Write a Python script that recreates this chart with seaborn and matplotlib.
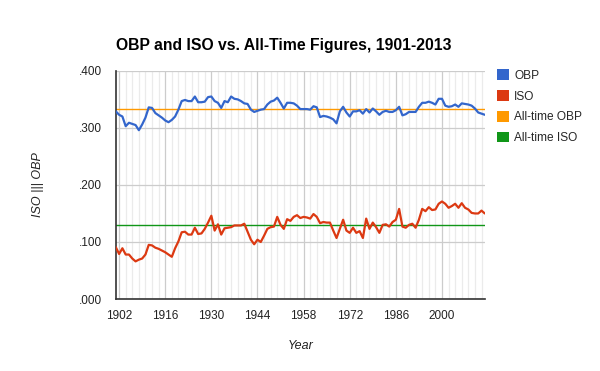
import numpy as np
import pandas as pd
import matplotlib
matplotlib.use("Agg")
import matplotlib.pyplot as plt
from matplotlib.patches import Patch
from matplotlib.ticker import MultipleLocator, FixedLocator
import seaborn as sns

## yearly league figures
years = list(range(1901, 2014))

obp = [0.329, 0.323, 0.320, 0.303, 0.309, 0.307, 0.305, 0.296, 0.306, 0.318,
       0.336, 0.335, 0.326, 0.322, 0.318, 0.313, 0.310, 0.314, 0.320, 0.332,
       0.347, 0.349, 0.347, 0.347, 0.355, 0.345, 0.345, 0.346, 0.354, 0.355,
       0.347, 0.344, 0.335, 0.347, 0.345, 0.355, 0.351, 0.350, 0.347, 0.343,
       0.342, 0.332, 0.328, 0.330, 0.332, 0.333, 0.341, 0.346, 0.348, 0.353,
       0.344, 0.334, 0.344, 0.344, 0.343, 0.339, 0.333, 0.333, 0.333, 0.332,
       0.338, 0.336, 0.319, 0.321, 0.320, 0.318, 0.315, 0.308, 0.329, 0.337,
       0.327, 0.320, 0.329, 0.329, 0.331, 0.325, 0.333, 0.327, 0.334, 0.329,
       0.323, 0.328, 0.330, 0.328, 0.328, 0.331, 0.337, 0.322, 0.324, 0.328,
       0.328, 0.328, 0.337, 0.344, 0.344, 0.346, 0.344, 0.341, 0.351, 0.351,
       0.339, 0.337, 0.338, 0.341, 0.337, 0.343, 0.342, 0.341, 0.339, 0.334,
       0.327, 0.325, 0.323]

iso = [0.091, 0.079, 0.089, 0.078, 0.078, 0.071, 0.066, 0.069, 0.071, 0.078,
       0.095, 0.094, 0.090, 0.088, 0.085, 0.082, 0.078, 0.074, 0.089, 0.101,
       0.117, 0.118, 0.113, 0.113, 0.125, 0.114, 0.115, 0.123, 0.134, 0.146,
       0.120, 0.131, 0.113, 0.124, 0.125, 0.126, 0.129, 0.129, 0.129, 0.132,
       0.118, 0.104, 0.096, 0.104, 0.100, 0.111, 0.123, 0.126, 0.127, 0.144,
       0.130, 0.123, 0.140, 0.137, 0.144, 0.147, 0.142, 0.144, 0.143, 0.141,
       0.149, 0.144, 0.133, 0.135, 0.134, 0.134, 0.120, 0.107, 0.123, 0.139,
       0.120, 0.116, 0.125, 0.116, 0.119, 0.107, 0.141, 0.123, 0.134, 0.126,
       0.116, 0.130, 0.131, 0.127, 0.135, 0.139, 0.158, 0.127, 0.125, 0.130,
       0.132, 0.125, 0.139, 0.158, 0.154, 0.161, 0.156, 0.157, 0.167, 0.171,
       0.167, 0.160, 0.163, 0.167, 0.160, 0.168, 0.160, 0.157, 0.151, 0.150,
       0.150, 0.155, 0.150]

alltime_obp = 0.333
alltime_iso = 0.130

series_names = ["OBP", "ISO", "All-time OBP", "All-time ISO"]
colors = ["#3366cc", "#dc3912", "#ff9900", "#109618"]
xticks = [1902, 1916, 1930, 1944, 1958, 1972, 1986, 2000]
yticks = [0.0, 0.1, 0.2, 0.3, 0.4]
ytick_labels = [".000", ".100", ".200", ".300", ".400"]

df = pd.DataFrame({
    "Year": years * 2,
    "value": obp + iso,
    "series": ["OBP"] * len(years) + ["ISO"] * len(years),
})

sns.set_style("white")
plt.rcParams["font.family"] = ["Liberation Sans", "DejaVu Sans"]

fig = plt.figure(figsize=(6, 3.71), dpi=100)
ax = fig.add_axes([0.193, 0.194, 0.615, 0.615])

# reference lines first so the data sits on top
ax.axhline(alltime_obp, color=colors[2], lw=1.0, zorder=2)
ax.axhline(alltime_iso, color=colors[3], lw=1.0, zorder=2)

sns.lineplot(data=df, x="Year", y="value", hue="series",
             palette={"OBP": colors[0], "ISO": colors[1]},
             linewidth=1.6, legend=False, ax=ax, zorder=3)

ax.set_xlim(1901, 2013)
ax.set_ylim(0, 0.4)
ax.xaxis.set_major_locator(FixedLocator(xticks))
ax.xaxis.set_minor_locator(MultipleLocator(2))
ax.set_yticks(yticks)
ax.set_yticklabels(ytick_labels)

ax.grid(which="major", axis="both", color="#cccccc", lw=0.9, zorder=0)
ax.grid(which="minor", axis="x", color="#ebebeb", lw=0.9, zorder=0)
ax.set_axisbelow(True)

for s in ["top", "right"]:
    ax.spines[s].set_visible(False)
ax.spines["left"].set_color("#333333")
ax.spines["bottom"].set_color("#333333")
ax.spines["left"].set_linewidth(1.2)
ax.spines["bottom"].set_linewidth(1.2)

ax.tick_params(which="both", length=0, labelsize=8.5, colors="#222222")
ax.tick_params(axis="y", pad=10)
ax.tick_params(axis="x", pad=8)

ax.set_xlabel("Year", fontstyle="italic", fontsize=9, color="#222222", labelpad=13)
ax.set_ylabel("ISO ||| OBP", fontstyle="italic", fontsize=9, color="#222222", labelpad=25)

fig.text(0.193, 0.878, "OBP and ISO vs. All-Time Figures, 1901-2013",
         fontsize=11.3, fontweight="bold", color="#000000", ha="left", va="center")

handles = [Patch(facecolor=c, edgecolor="none") for c in colors]
fig.legend(handles, series_names, loc="upper left", bbox_to_anchor=(0.821, 0.826),
           frameon=False, fontsize=8.6, handlelength=1.0, handleheight=1.0,
           handletextpad=0.4, labelspacing=0.7, borderaxespad=0)

fig.savefig("out.png", dpi=100)
